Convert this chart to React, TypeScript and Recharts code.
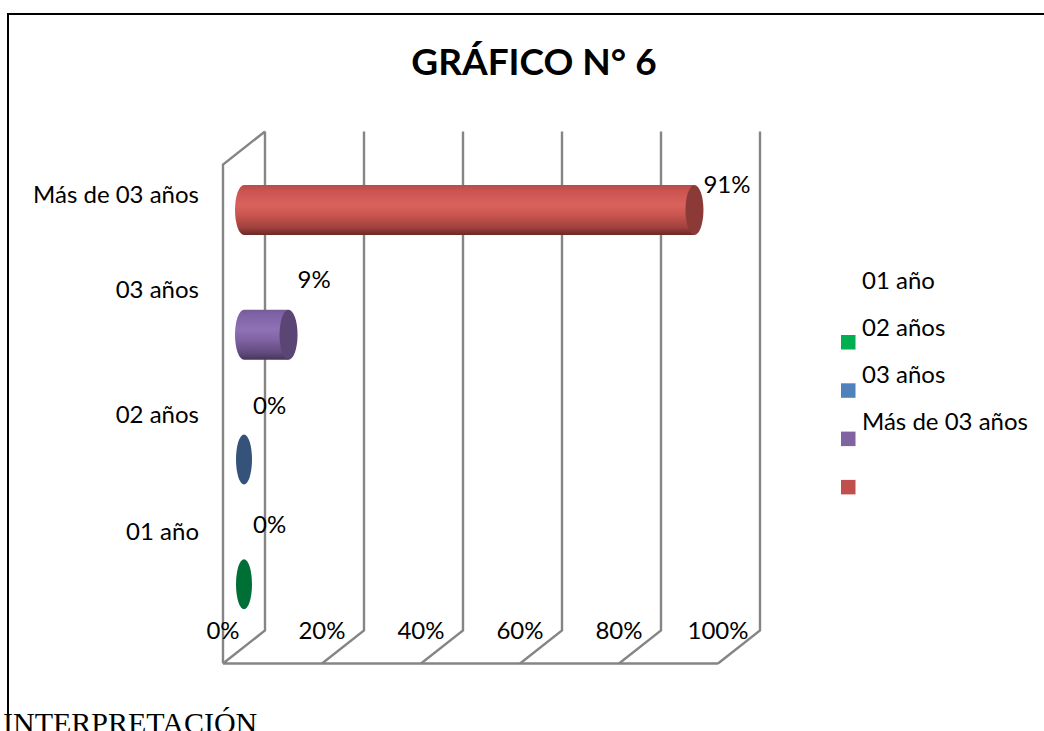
import React from 'react';
import { BarChart, Bar, XAxis, YAxis, CartesianGrid, LabelList, Legend } from 'recharts';

// ---- data ----
const categories = ['01 año', '02 años', '03 años', 'Más de 03 años'];
const shares = [0, 0, 0.09, 0.91];
const xTicks = [0, 0.2, 0.4, 0.6, 0.8, 1];
const xTickLabels = ['0%', '20%', '40%', '60%', '80%', '100%'];
const legendLabels = ['01 año', '02 años', '03 años', 'Más de 03 años'];
const legendColors = ['#00B050', '#4F81BD', '#8064A2', '#C0504D'];
const title = 'GRÁFICO N° 6';
const footerText = 'INTERPRETACIÓN';

const data = categories.map((cat, i) => ({ cat, share: shares[i] }));

// ---- layout / style ----
const W = 1044;
const H = 731;
const Y_AXIS_W = 60;
const X_AXIS_H = 30;
const PLOT_LEFT = 244;
const PLOT_TOP = 148;
const PLOT_RIGHT = 739;
const PLOT_BOTTOM = 647;
const M = {
  top: PLOT_TOP,
  right: W - PLOT_RIGHT,
  bottom: H - PLOT_BOTTOM - X_AXIS_H,
  left: PLOT_LEFT - Y_AXIS_W,
};
const DX = 21;
const DY = 16.5;
const GRID = '#858585';
const FONT = 'Lato, "Open Sans", sans-serif';
const FS = 24;

const barStyles = [
  { stops: ['#00a04a', '#00b856', '#00c05c', '#00a54c', '#008a3e', '#005e2b'], cap: '#006f36' },
  { stops: ['#3f6a9e', '#4a78b0', '#5686c2', '#4a78ae', '#3a6090', '#2a4565'], cap: '#34527a' },
  { stops: ['#765c98', '#8063a6', '#8f72b6', '#7f63a3', '#634c80', '#45355a'], cap: '#5a4575' },
  { stops: ['#b84c49', '#c85350', '#da625d', '#c9554f', '#a0413e', '#6b2826'], cap: '#8c3a38' },
];
const stopOffsets = [0, 0.1, 0.4, 0.6, 0.85, 1];

const catDy = [-45, -37, -37, -7];
const valDx = [9, 9, 9, 9];
const valDy = [-51, -46, -47, -17];

const Cylinder = (props: any) => {
  const { x, y, width, height, index } = props;
  const st = barStyles[index] || barStyles[0];
  const ry = height / 2;
  const rx = 9;
  const cy = y + ry;
  const x0 = x;
  const x1 = x + width;
  const id = `cyl-grad-${index}`;
  if (!(width > 0.5)) {
    return <ellipse cx={x0} cy={cy} rx={8} ry={ry} fill={st.cap} />;
  }
  return (
    <g>
      <defs>
        <linearGradient id={id} x1="0" y1="0" x2="0" y2="1">
          {st.stops.map((c, k) => (
            <stop key={k} offset={stopOffsets[k]} stopColor={c} />
          ))}
        </linearGradient>
      </defs>
      <path
        d={`M${x0},${y} L${x1},${y} L${x1},${y + height} L${x0},${y + height} A${rx},${ry} 0 0 1 ${x0},${y} Z`}
        fill={`url(#${id})`}
      />
      <ellipse cx={x1} cy={cy} rx={rx} ry={ry} fill={st.cap} />
    </g>
  );
};

const gridLine = (p: any) => {
  const { x1, y1, y2 } = p;
  let d = `M${x1 + DX},${y1 - DY} L${x1 + DX},${y2 - DY} L${x1 - DX},${y2 + DY}`;
  if (Math.abs(x1 - PLOT_LEFT) < 1) {
    d += ` M${x1 - DX},${y2 + DY} L${x1 - DX},${y1 + DY} L${x1 + DX},${y1 - DY}`;
    d += ` M${x1 - DX},${y2 + DY} L${PLOT_RIGHT - DX},${y2 + DY}`;
  }
  return <path key={p.key} d={d} stroke={GRID} strokeWidth={2.4} fill="none" />;
};

const XTick = (p: any) => {
  const v = p.payload?.value;
  const i = xTicks.indexOf(v);
  return (
    <text x={p.x - DX} y={PLOT_BOTTOM - 8} textAnchor="middle" fontFamily={FONT} fontSize={FS} fill="#000">
      {i >= 0 ? xTickLabels[i] : ''}
    </text>
  );
};

const YTick = (p: any) => {
  const v = p.payload?.value;
  const i = categories.indexOf(v);
  return (
    <text x={PLOT_LEFT - 45} y={p.y + (catDy[i] ?? 0)} textAnchor="end" fontFamily={FONT} fontSize={FS} fill="#000">
      {v}
    </text>
  );
};

const ValueLabel = (p: any) => {
  const vb = p.viewBox && p.viewBox.x != null ? p.viewBox : p;
  const i = p.index ?? 0;
  const x1 = vb.x + vb.width;
  const cy = vb.y + vb.height / 2;
  const v = Number(p.value);
  return (
    <text x={x1 + valDx[i]} y={cy + valDy[i]} fontFamily={FONT} fontSize={FS} fill="#000">
      {`${Math.round(v * 100)}%`}
    </text>
  );
};

const renderLegend = () => (
  <svg
    width={W}
    height={H}
    style={{ position: 'absolute', left: 0, top: 0, overflow: 'visible', pointerEvents: 'none' }}
  >
    {legendLabels.map((t, i) => (
      <text key={t} x={862} y={289 + 47 * i} fontFamily={FONT} fontSize={FS} fill="#000">
        {t}
      </text>
    ))}
    {legendColors.map((c, i) => (
      <rect key={c} x={841} y={335 + 48.3 * i} width={14.5} height={14.5} fill={c} />
    ))}
  </svg>
);

export default function App() {
  return (
    <div style={{ position: 'absolute', left: 0, top: 0, width: W, height: H, overflow: 'hidden', background: '#fff' }}>
      <svg width={W} height={H} style={{ position: 'absolute', left: 0, top: 0 }}>
        <text x={3} y={733} fontFamily='"Liberation Serif", "DejaVu Serif", serif' fontSize={30} fill="#000">
          {footerText}
        </text>
      </svg>
      <div
        style={{
          position: 'absolute',
          left: 7,
          top: 13,
          width: 1200,
          height: 900,
          border: '2px solid #000',
          boxSizing: 'border-box',
        }}
      />
      <div style={{ position: 'absolute', left: 0, top: 0 }}>
        <BarChart width={W} height={H} data={data} layout="vertical" margin={M}>
          <CartesianGrid vertical={gridLine} horizontal={false} />
          <XAxis
            type="number"
            domain={[0, 1]}
            ticks={xTicks}
            interval={0}
            axisLine={false}
            tickLine={false}
            height={X_AXIS_H}
            tick={<XTick />}
          />
          <YAxis
            type="category"
            dataKey="cat"
            reversed
            width={Y_AXIS_W}
            axisLine={false}
            tickLine={false}
            interval={0}
            tick={<YTick />}
          />
          <Legend content={renderLegend} wrapperStyle={{ position: 'absolute', left: 0, top: 0, width: 0, height: 0 }} />
          <Bar dataKey="share" barSize={50} shape={<Cylinder />} isAnimationActive={false}>
            <LabelList dataKey="share" content={<ValueLabel />} />
          </Bar>
        </BarChart>
      </div>
      <svg width={W} height={H} style={{ position: 'absolute', left: 0, top: 0, pointerEvents: 'none' }}>
        <text x={534} y={75} textAnchor="middle" fontFamily={FONT} fontWeight="bold" fontSize={37} fill="#000">
          {title}
        </text>
      </svg>
    </div>
  );
}
